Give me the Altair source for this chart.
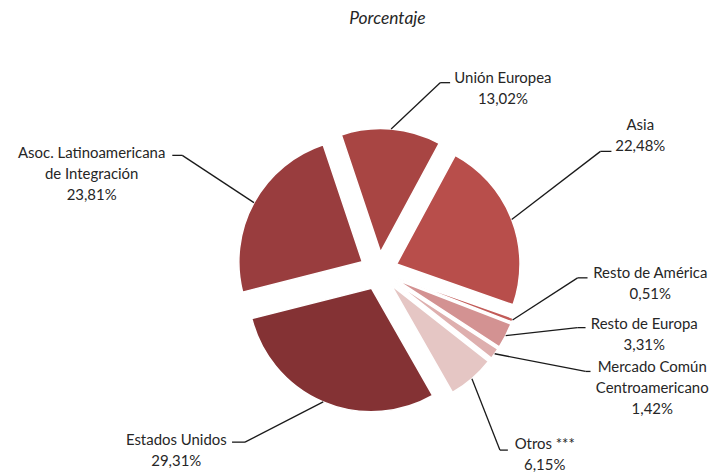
import math
import altair as alt
import pandas as pd

# ---- data ----
categories = ["Unión Europea", "Asia", "Resto de América", "Resto de Europa",
              "Mercado Común Centroamericano", "Otros ***", "Estados Unidos",
              "Asoc. Latinoamericana de Integración"]
label_names = ["Unión Europea", "Asia", "Resto de América", "Resto de Europa",
               "Mercado Común\nCentroamericano", "Otros ***", "Estados Unidos",
               "Asoc. Latinoamericana\nde Integración"]
values = [13.02, 22.48, 0.51, 3.31, 1.42, 6.15, 29.31, 23.81]
colors = ["#A84543", "#B84E4B", "#C25B58", "#D39292", "#DEAFAE", "#E5C6C4",
          "#843234", "#993D3E"]

# ---- layout (chart pixel coords, page minus 8px margin) ----
M = 8
CX, CY = 380.5 - M, 271 - M      # pie centre
R = 124                          # radius
D = 19                           # explosion distance
START = math.radians(-18.5)      # first slice start angle
label_xy = [(505, 77), (643, 125), (653, 273), (647, 324), (655, 368),
            (547, 445), (177, 441), (92, 153)]
elbow_xy = [(442, 82), (603, 151), (580, 278), (580, 328), (588, 372),
            (502, 451), (246, 443), (183, 155)]
end_xy = [(452, 82), (614, 151), (590, 278), (588, 328), (593, 372),
          (510, 451), (233, 443), (173, 155)]

total = sum(values)
df = pd.DataFrame({
    "cat": categories,
    "pct": values,
    "order": list(range(len(values))),
    "label": [n + "\n" + f"{v:.2f}".replace(".", ",") + "%" for n, v in zip(label_names, values)],
    "lx": [p[0] - M for p in label_xy],
    "ly": [p[1] - M for p in label_xy],
    "ex": [p[0] - M for p in elbow_xy],
    "ey": [p[1] - M for p in elbow_xy],
    "tx": [p[0] - M for p in end_xy],
    "ty": [p[1] - M for p in end_xy],
})

base = alt.Chart(df).transform_window(
    cum="sum(pct)", sort=[alt.SortField("order")], frame=[None, 0]
).transform_calculate(
    start="datum.cum - datum.pct",
    mid=f"(datum.cum - datum.pct/2) / {total} * 2 * PI + {START}",
).transform_calculate(
    px=f"{CX} + {D} * sin(datum.mid)",
    py=f"{CY} - {D} * cos(datum.mid)",
    sx=f"{CX} + {R + D} * sin(datum.mid)",
    sy=f"{CY} - {R + D} * cos(datum.mid)",
)

slices = base.mark_arc(radius=R, stroke="white", strokeWidth=1.5).encode(
    theta=alt.Theta("start:Q", scale=alt.Scale(domain=[0, total],
                                               range=[START, START + 2 * math.pi])),
    theta2="cum:Q",
    x=alt.X("px:Q", scale=None),
    y=alt.Y("py:Q", scale=None),
    color=alt.Color("cat:N", scale=alt.Scale(domain=categories, range=colors), legend=None),
)

lead1 = base.mark_rule(color="#1a1a1a", strokeWidth=1.3).encode(
    x=alt.X("sx:Q", scale=None), y=alt.Y("sy:Q", scale=None),
    x2="ex:Q", y2="ey:Q",
)
lead2 = base.mark_rule(color="#1a1a1a", strokeWidth=1.3).encode(
    x=alt.X("ex:Q", scale=None), y=alt.Y("ey:Q", scale=None),
    x2="tx:Q", y2="ty:Q",
)

labels = base.mark_text(font="Lato", fontSize=15, color="#262626", lineBreak="\n",
                        lineHeight=21, align="center", baseline="middle").encode(
    x=alt.X("lx:Q", scale=None), y=alt.Y("ly:Q", scale=None), text="label:N",
)

title = alt.Chart(pd.DataFrame({"t": ["Porcentaje"]})).mark_text(
    font="Lato", fontSize=17.5, fontStyle="italic", color="#262626",
    align="center", baseline="middle",
).encode(x=alt.value(389 - M), y=alt.value(18 - M), text="t:N")

chart = alt.layer(slices, lead1, lead2, labels, title).properties(
    width=701, height=458, padding=0
).configure_view(stroke=None)

chart.save("out.html", embed_options={"renderer": "svg", "actions": False})
